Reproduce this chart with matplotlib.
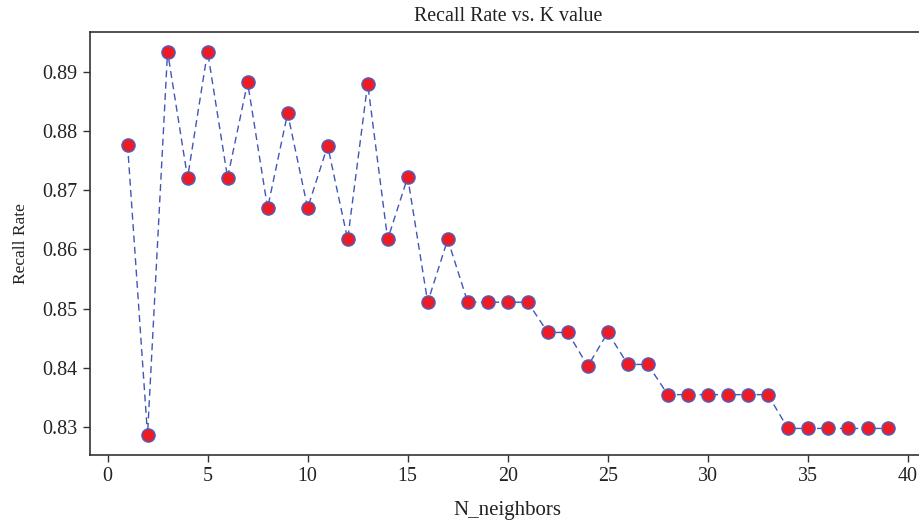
import matplotlib
matplotlib.use("Agg")
import matplotlib.pyplot as plt

k_values = list(range(1, 40))
recall = [0.8777, 0.8287, 0.8934, 0.8721, 0.8934, 0.8721, 0.8882, 0.8670, 0.8830, 0.8670,
          0.8775, 0.8617, 0.8880, 0.8617, 0.8722, 0.8511, 0.8617, 0.8511, 0.8511, 0.8511,
          0.8511, 0.8460, 0.8460, 0.8403, 0.8460, 0.8406, 0.8406, 0.8355, 0.8355, 0.8355,
          0.8355, 0.8355, 0.8355, 0.8298, 0.8298, 0.8298, 0.8298, 0.8298, 0.8298]
xticks = [0, 5, 10, 15, 20, 25, 30, 35, 40]
yticks = [0.83, 0.84, 0.85, 0.86, 0.87, 0.88, 0.89]

plt.rcParams['font.family'] = ['Liberation Serif', 'DejaVu Serif']

fig = plt.figure(figsize=(9.19, 5.22), dpi=100)
ax = fig.add_axes([0.0974, 0.1293, 0.9102, 0.8094])
line, = ax.plot(k_values, recall, linestyle='--', color='#4256b5', linewidth=1.0,
                marker='o', markersize=9.5, markerfacecolor='#ed1c24',
                markeredgecolor='#4a62c4', markeredgewidth=1.0)
line.set_dashes([5, 3.2])
ax.set_xticks(xticks)
ax.set_yticks(yticks)
ax.set_yticklabels([f"{v:.2f}" for v in yticks])
ax.set_xlim(-0.9, 40.9)
ax.set_ylim(0.8254, 0.8967)
for s in ax.spines.values():
    s.set_color('#333333')
    s.set_linewidth(1.2)
ax.tick_params(direction='out', length=5, width=1.0, colors='#333333',
               labelsize=14.4, labelcolor='#222222', pad=4)
ax.set_title('Recall Rate vs. K value', fontsize=14.4, color='#222222', pad=8)
ax.set_xlabel('N_neighbors', fontsize=15, color='#222222', labelpad=11)
ax.set_ylabel('Recall Rate', fontsize=12.5, color='#222222', labelpad=9)
fig.savefig('out.png', dpi=100)
